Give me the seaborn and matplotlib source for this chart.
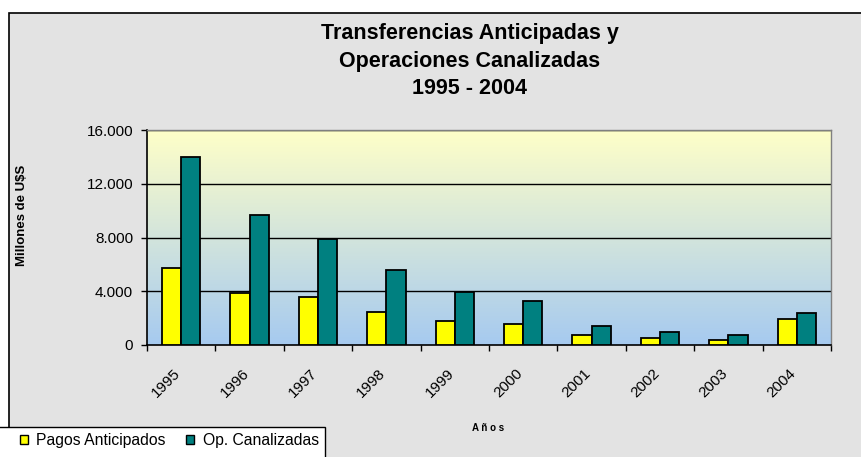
import numpy as np
import pandas as pd
import matplotlib
matplotlib.use("Agg")
import matplotlib.pyplot as plt
import matplotlib.transforms as mtransforms
import seaborn as sns
from matplotlib.patches import Rectangle
from matplotlib.colors import LinearSegmentedColormap

years = ["1995", "1996", "1997", "1998", "1999", "2000", "2001", "2002", "2003", "2004"]
pagos = [5700, 3900, 3550, 2450, 1750, 1575, 725, 500, 400, 1950]
canalizadas = [14000, 9650, 7900, 5600, 3950, 3250, 1450, 975, 725, 2400]
series_names = ["Pagos Anticipados", "Op. Canalizadas"]
yticks = [0, 4000, 8000, 12000, 16000]
ytick_labels = ["0", "4.000", "8.000", "12.000", "16.000"]

df = pd.DataFrame({
    "Año": years * 2,
    "Serie": [series_names[0]] * len(years) + [series_names[1]] * len(years),
    "Valor": pagos + canalizadas,
})

sns.set_theme(style="white")
plt.rcParams["font.family"] = ["Liberation Sans", "DejaVu Sans"]
plt.rcParams["text.color"] = "black"
plt.rcParams["xtick.color"] = "black"
plt.rcParams["ytick.color"] = "black"

W, H = 861, 457
fig = plt.figure(figsize=(W / 100, H / 100), dpi=100, facecolor="white")

# outer chart frame (extends past right and bottom edges)
fig.patches.append(Rectangle((9 / W, -0.05), 1.0, 1 - 13 / H + 0.05, transform=fig.transFigure,
                             facecolor="#e3e3e3", edgecolor="black", linewidth=1.2, zorder=-5))
# legend box
fig.patches.append(Rectangle((-5 / W, -0.05), 330 / W, (457 - 427) / H + 0.05, transform=fig.transFigure,
                             facecolor="white", edgecolor="black", linewidth=1.0, zorder=-4))

ax = fig.add_axes([147 / W, 1 - 345 / H, (831 - 147) / W, (345 - 130) / H])
ax.set_facecolor("none")
ax.set_zorder(2)

palette = {series_names[0]: "#ffff00", series_names[1]: "#008080"}
sns.barplot(data=df, x="Año", y="Valor", hue="Serie", palette=palette, width=0.56, gap=0,
            edgecolor="black", linewidth=1.3, saturation=1, ax=ax, legend=False, zorder=3)

ax.set_ylim(0, 16000)
ax.set_xlim(-0.5, len(years) - 0.5)

# gradient background
cmap = LinearSegmentedColormap.from_list("bg", ["#a6caf0", "#ffffc8"])
grad = np.linspace(0, 1, 256).reshape(-1, 1)
ax.imshow(grad, aspect="auto", cmap=cmap, origin="lower",
          extent=(-0.5, len(years) - 0.5, 0, 16000), zorder=0)

for v in yticks[1:]:
    ax.axhline(v, color="black", linewidth=1.0, zorder=1)

ax.set_yticks(yticks)
ax.set_yticklabels(ytick_labels, fontsize=11)
ax.set_xticks(range(len(years)))
ax.set_xticklabels(years, fontsize=11, rotation=45, ha="right", va="center", rotation_mode="anchor")
ax.tick_params(axis="x", which="major", length=0, pad=19)
offset = mtransforms.ScaledTranslation(-3 / 100, 0, fig.dpi_scale_trans)
for lbl in ax.get_xticklabels():
    lbl.set_transform(lbl.get_transform() + offset)
ax.set_xticks(np.arange(-0.5, len(years) - 0.4, 1), minor=True)
ax.tick_params(axis="x", which="minor", length=4, width=1, color="black", direction="out", bottom=True)
ax.tick_params(axis="y", length=4, width=1, color="black", direction="out", left=True, pad=6)

for s in ["left", "bottom"]:
    ax.spines[s].set_color("black")
    ax.spines[s].set_linewidth(1.2)
for s in ["right", "top"]:
    ax.spines[s].set_color("#808080")
    ax.spines[s].set_linewidth(1.0)

ax.set_xlabel("")
ax.set_ylabel("")

fig.text(22 / W, 1 - 215 / H, "Millones de U$S", rotation=90, ha="center", va="center",
         fontsize=9.5, fontweight="bold")
fig.text(488 / W, 1 - 428 / H, "A ñ o s", ha="center", va="center", fontsize=7, fontweight="bold")

for txt, yy in [("Transferencias Anticipadas y", 34), ("Operaciones Canalizadas", 62), ("1995 - 2004", 88)]:
    fig.text(470 / W, 1 - yy / H, txt, ha="center", va="center", fontsize=15.5, fontweight="bold")

handles = [Rectangle((0, 0), 1, 1, facecolor=palette[n], edgecolor="black", linewidth=1.0) for n in series_names]
leg = fig.legend(handles, series_names, loc="center left", bbox_to_anchor=(20 / W, 1 - 441 / H),
                 bbox_transform=fig.transFigure, ncol=2, frameon=False, fontsize=11.3,
                 handlelength=0.5, handleheight=0.5, handletextpad=0.55, columnspacing=1.3,
                 borderpad=0, borderaxespad=0)

fig.savefig("out.png", dpi=100, facecolor="white")
